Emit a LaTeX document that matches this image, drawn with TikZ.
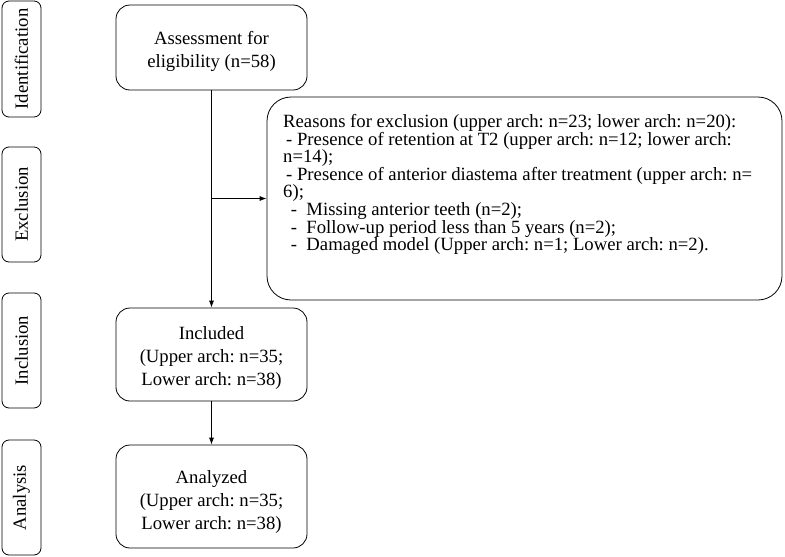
\documentclass[tikz,border=0pt]{standalone}
\usepackage{fontspec}
\setmainfont{Liberation Serif}
\usetikzlibrary{arrows.meta}
\newcommand\lowtext[2]{\raisebox{-#1}[\height][\depth]{\begin{tabular}{@{}c@{}}#2\end{tabular}}}
\begin{document}
\frenchspacing
\begin{tikzpicture}[x=1pt,y=1pt,
  txt/.style={font=\fontsize{18.7}{23}\selectfont},
  side/.style={draw, rounded corners=7pt, line width=0.8pt, minimum height=39pt, inner sep=0pt, rotate=90, txt},
  mainbox/.style={draw, rounded corners=14pt, line width=0.8pt, minimum width=191pt, align=center, inner sep=0pt, txt},
  arr/.style={-{Latex[length=7pt,width=5pt]}, line width=0.8pt}]
\useasboundingbox (0,0) rectangle (785,-557);
% side labels
\node[side, minimum width=116pt] (sid) at (21.5,-59) {Identification};
\node[side, minimum width=115pt] (sex) at (21.5,-204.5) {Exclusion};
\node[side, minimum width=115pt] (sin) at (21.5,-350.5) {Inclusion};
\node[side, minimum width=115pt] (san) at (21.5,-497.5) {Analysis};
% main boxes
\node[mainbox, minimum height=85pt] (ass) at (211.5,-47.5) {\lowtext{4pt}{Assessment for\\eligibility (n=58)}};
\node[mainbox, minimum height=93pt] (inc) at (211.5,-354.5) {\lowtext{3.5pt}{Included\\(Upper arch: n=35;\\Lower arch: n=38)}};
\node[mainbox, minimum height=103pt] (ana) at (211.5,-496.5) {\lowtext{5.5pt}{Analyzed\\(Upper arch: n=35;\\Lower arch: n=38)}};
% exclusion box
\node[draw, rounded corners=24pt, line width=0.8pt, minimum width=515pt, minimum height=203pt] (exc) at (524.5,-198.5) {};
\node[anchor=west, align=left, inner sep=0pt, font=\fontsize{18.7}{17.6}\selectfont] (exctext) at (283,-184.5) {%
Reasons for exclusion (upper arch: n=23; lower arch: n=20):\\
\hspace{3pt}- Presence of retention at T2 (upper arch: n=12; lower arch:\\
n=14);\\
\hspace{3pt}- Presence of anterior diastema after treatment (upper arch: n=\\
6);\\
\hspace{3pt}\ -\ \ Missing anterior teeth (n=2);\\
\hspace{3pt}\ -\ \ Follow-up period less than 5 years (n=2);\\
\hspace{3pt}\ -\ \ Damaged model (Upper arch: n=1; Lower arch: n=2).};
% connectors
\coordinate (split) at (ass.south |- exc.west);
\draw[arr] (ass.south) -- (inc.north);
\draw[arr] (split) -- (exc.west);
\draw[arr] (inc.south) -- (ana.north);
\end{tikzpicture}
\end{document}
